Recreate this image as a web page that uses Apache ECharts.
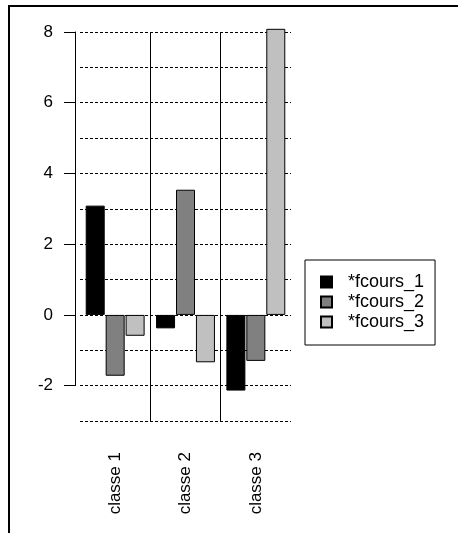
<!DOCTYPE html>
<html>
<head>
<meta charset="utf-8">
<script src="https://cdn.jsdelivr.net/npm/echarts@6/dist/echarts.min.js"></script>
<style>
html, body { margin: 0; padding: 0; background: #fff; overflow: hidden; }
#chart { width: 458px; height: 533px; }
#frame { position: absolute; left: 8px; top: 5px; width: 480px; height: 560px; border: 2px solid #000; pointer-events: none; }
</style>
</head>
<body>
<div id="chart"></div>
<div id="frame"></div>
<script>
var classes = ['classe 1', 'classe 2', 'classe 3'];
var seriesNames = ['*fcours_1', '*fcours_2', '*fcours_3'];
var fcours1 = [3.09, -0.38, -2.14];
var fcours2 = [-1.72, 3.54, -1.30];
var fcours3 = [-0.59, -1.34, 8.09];
var barColors = ['#000000', '#808080', '#c0c0c0'];

var chart = echarts.init(document.getElementById('chart'));
var font = 'Liberation Sans, Arial, sans-serif';

function barSeries(name, data, color) {
	return {
		name: name,
		type: 'bar',
		xAxisIndex: 0,
		yAxisIndex: 0,
		barWidth: 19,
		barGap: '5%',
		clip: false,
		itemStyle: { color: color, borderColor: '#000', borderWidth: 1 },
		data: data
	};
}

var option = {
	animation: false,
	legend: {
		data: seriesNames,
		orient: 'vertical',
		left: 305,
		top: 260,
		padding: [13, 11, 14, 15],
		borderColor: '#000',
		borderWidth: 1,
		itemWidth: 11,
		itemHeight: 11,
		itemGap: 2,
		icon: 'rect',
		textStyle: { fontSize: 18, fontFamily: font, color: '#000', lineHeight: 18, padding: [0, 0, 0, 11] }
	},
	grid: [
		{ left: 80, top: 32, width: 211, height: 389 },
		{ left: 75, top: 32, width: 10, height: 353.6 }
	],
	xAxis: [
		{
			type: 'category',
			gridIndex: 0,
			data: classes,
			axisLine: { show: false },
			axisTick: { show: false },
			axisLabel: { rotate: 90, margin: 31, fontSize: 17, fontFamily: font, color: '#000' },
			splitLine: {
				show: true,
				showMinLine: false,
				showMaxLine: false,
				lineStyle: { color: '#000', width: 1, type: 'solid' }
			}
		},
		{ type: 'value', gridIndex: 1, show: false, min: 0, max: 1 }
	],
	yAxis: [
		{
			type: 'value',
			gridIndex: 0,
			min: -3,
			max: 8,
			interval: 1,
			axisLine: { show: false },
			axisTick: { show: false },
			axisLabel: { show: false },
			splitLine: {
				show: true,
				showMinLine: true,
				showMaxLine: true,
				lineStyle: { color: '#000', width: 1, type: [3, 2] }
			}
		},
		{
			type: 'value',
			gridIndex: 1,
			min: -2,
			max: 8,
			interval: 2,
			axisLine: { show: true, lineStyle: { color: '#000', width: 1 } },
			axisTick: { show: true, length: 11, lineStyle: { color: '#000' } },
			axisLabel: { margin: 22, fontSize: 17, fontFamily: font, color: '#000' },
			splitLine: { show: false }
		}
	],
	series: [
		barSeries(seriesNames[0], fcours1, barColors[0]),
		barSeries(seriesNames[1], fcours2, barColors[1]),
		barSeries(seriesNames[2], fcours3, barColors[2])
	]
};
chart.setOption(option);
</script>
</body>
</html>
